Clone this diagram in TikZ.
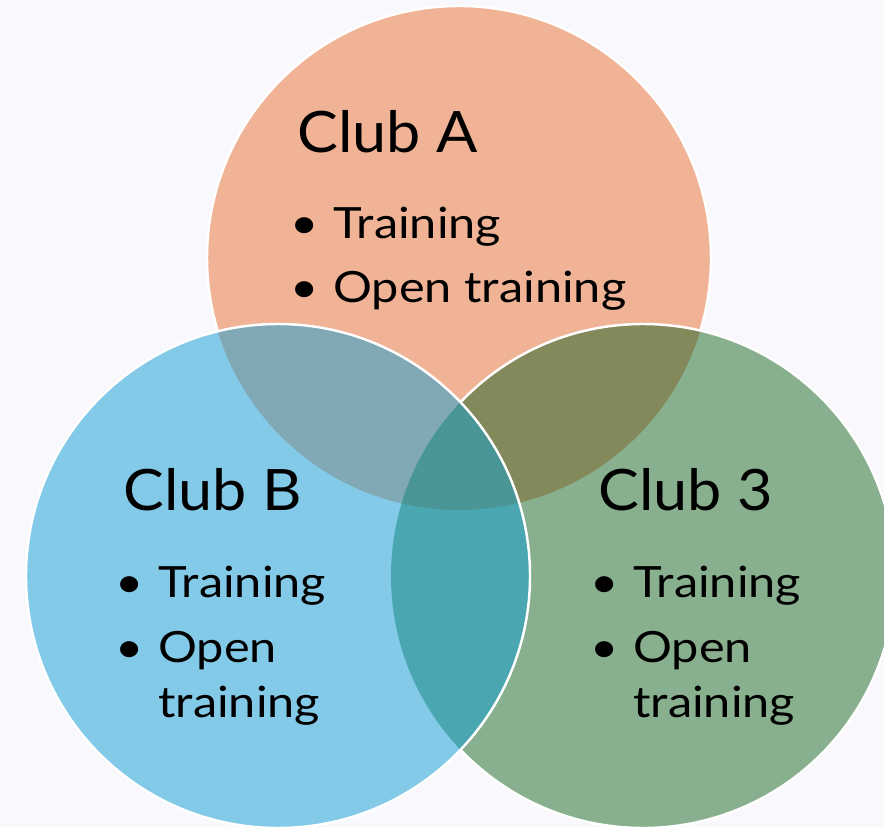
\documentclass[tikz,border=0pt]{standalone}
\usepackage{fontspec}
\setmainfont{Lato}
\newfontfamily\titlefont{Lato}[FakeStretch=1.07]
\newfontfamily\itemfont{Lato}[FakeStretch=1.13]
\usepackage{tikz}
\definecolor{pagebg}{HTML}{F8F8FD}
\definecolor{clubA}{HTML}{F1B396}
\definecolor{clubB}{HTML}{83CAE8}
\definecolor{clubC}{HTML}{88B08E}
\definecolor{clubAB}{HTML}{80A8B5}
\definecolor{clubAC}{HTML}{84895C}
\definecolor{clubBC}{HTML}{4AA7B1}
\definecolor{clubABC}{HTML}{4A9596}
\tikzset{
    clubtitle/.style = {
        anchor = base west,
        inner sep = 0pt,
        font = \titlefont\fontsize{32.5}{38}\selectfont
    },
    clubitem/.style = {
        anchor = base west,
        inner sep = 0pt,
        font = \itemfont\fontsize{24.5}{29}\selectfont
    },
    rim/.style = {
        draw = white,
        line width = 1.4pt
    }
}
\newcommand{\bul}{\llap{\textbullet\hspace{0.3cm}}}

\begin{document}
\begin{tikzpicture}[x=0.02cm, y=0.02cm]
        \clip (0,0) rectangle (884,-827);
        \fill[pagebg] (0,0) rectangle (884,-827);

        % club A
        \fill[clubA] (459,-258) circle[radius=252];
        \draw[rim] (459,-258) circle[radius=252];

        % club 3
        \fill[clubC] (643,-576) circle[radius=252];
        \begin{scope}
            \clip (643,-576) circle[radius=252];
            \fill[clubAC] (459,-258) circle[radius=252];
        \end{scope}
        \draw[rim] (643,-576) circle[radius=252];

        % club B
        \fill[clubB] (278,-576) circle[radius=252];
        \begin{scope}
            \clip (278,-576) circle[radius=252];
            \fill[clubAB] (459,-258) circle[radius=252];
            \fill[clubBC] (643,-576) circle[radius=252];
            \clip (643,-576) circle[radius=252];
            \fill[clubABC] (459,-258) circle[radius=252];
        \end{scope}
        \draw[rim] (278,-576) circle[radius=252];

        \node[clubtitle] (titleA) at (297,-153) {Club A};
        \node[clubitem] (trainA) at (333,-238) {\bul Training};
        \node[clubitem] (openA) at (333,-302) {\bul Open training};

        \node[clubtitle] (titleB) at (123,-510) {Club B};
        \node[clubitem] (trainB) at (158,-597) {\bul Training};
        \node[clubitem] (openB) at (158,-662) {\bul Open};
        \node[clubitem] (openB2) at (158,-717) {training};

        \node[clubtitle] (titleC) at (598,-510) {Club 3};
        \node[clubitem] (trainC) at (633,-597) {\bul Training};
        \node[clubitem] (openC) at (633,-662) {\bul Open};
        \node[clubitem] (openC2) at (633,-717) {training};
\end{tikzpicture}
\end{document}
